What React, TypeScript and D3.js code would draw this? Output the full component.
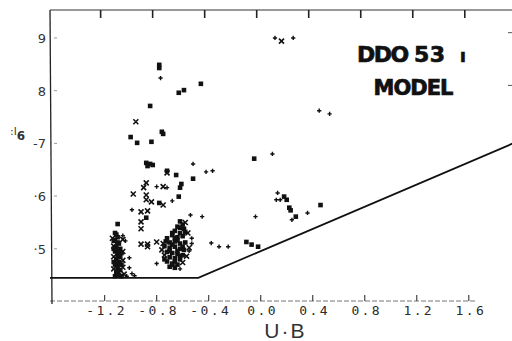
import React, { useEffect, useRef } from "react";
import * as d3 from "d3";

// tick values and labels as printed on the plot
const xTicks = [-1.2, -0.8, -0.4, 0.0, 0.4, 0.8, 1.2, 1.6];
const xTickLabels = ["-1.2", "-0.8", "-0.4", "0.0", "0.4", "0.8", "1.2", "1.6"];
const yTicks = [5, 6, 7, 8, 9];
const yTickLabels = ["·5", "·6", "-7", "8", "9"];

// [U-B, mag]
const squares: [number, number][] = [
  [-0.78, 8.49], [-0.78, 8.43], [-0.63, 7.96], [-0.59, 8.01], [-0.46, 8.13],
  [-0.85, 7.71], [-1.0, 7.12], [-0.95, 7.01], [-0.84, 7.03], [-0.76, 7.22],
  [-0.75, 7.18], [-0.05, 6.71], [-0.88, 6.63], [-0.85, 6.61], [-0.83, 6.59],
  [-0.87, 6.57], [-0.72, 6.48], [-0.65, 6.4], [-0.52, 6.33], [-0.61, 6.23],
  [-0.62, 6.16], [-0.78, 5.87], [-0.63, 5.99], [-0.88, 5.59], [-1.1, 5.47],
  [-1.11, 5.27], [-1.12, 5.17],
  // left clump
  [-1.12, 5.3], [-1.1, 5.22], [-1.13, 5.15], [-1.09, 5.1], [-1.11, 5.04],
  [-1.08, 5.0], [-1.12, 4.95], [-1.1, 4.9], [-1.08, 4.85], [-1.11, 4.8],
  [-1.09, 4.75], [-1.12, 4.7], [-1.1, 4.65], [-1.08, 4.6], [-1.11, 4.55],
  [-1.09, 4.5], [-1.07, 4.48], [-1.12, 4.48], [-1.1, 5.12], [-1.1, 4.98],
  [-1.1, 4.84], [-1.1, 4.72], [-1.1, 4.58], [-1.13, 5.0], [-1.13, 4.75],
  [-1.07, 4.92], [-1.07, 4.7],
  // central clump
  [-0.62, 5.52], [-0.6, 5.46], [-0.64, 5.42], [-0.59, 5.38], [-0.66, 5.34],
  [-0.62, 5.3], [-0.68, 5.26], [-0.64, 5.22], [-0.6, 5.24], [-0.72, 5.2],
  [-0.7, 5.12], [-0.66, 5.14], [-0.62, 5.1], [-0.58, 5.12], [-0.74, 5.05],
  [-0.7, 5.02], [-0.66, 5.04], [-0.62, 5.0], [-0.59, 4.98], [-0.72, 4.94],
  [-0.68, 4.92], [-0.64, 4.9], [-0.6, 4.88], [-0.7, 4.84], [-0.66, 4.82],
  [-0.62, 4.8], [-0.72, 4.76], [-0.68, 4.72], [-0.64, 4.7], [-0.7, 4.66],
  [-0.66, 4.64], [-0.68, 5.3], [-0.66, 5.2], [-0.68, 5.08], [-0.64, 5.16],
  [-0.6, 5.04], [-0.74, 4.8], [-0.66, 4.76], [-0.62, 4.86], [-0.7, 4.96],
  [-0.64, 4.96], [-0.58, 5.32], [-0.62, 5.4], [-0.68, 4.7], [-0.73, 5.14],
  // right side
  [-0.11, 5.13], [-0.07, 5.08], [-0.02, 5.04], [0.18, 5.99], [0.2, 5.93],
  [0.22, 5.78], [0.23, 5.73], [0.27, 5.61], [0.46, 5.83],
];

const crosses: [number, number][] = [
  [0.16, 8.94], [-0.96, 7.41], [-0.72, 6.44], [-0.88, 6.25], [-0.9, 6.16],
  [-0.75, 6.18], [-0.98, 6.04], [-0.88, 6.02], [-0.88, 5.93], [-0.84, 5.89],
  [-0.75, 5.83], [-0.92, 5.7], [-0.87, 5.72], [-0.92, 5.51], [-0.92, 5.38],
  [-0.92, 5.09], [-0.87, 5.09], [-0.87, 5.04], [-0.8, 5.13],
  [-1.14, 5.2], [-1.06, 5.18], [-1.13, 5.05], [-1.06, 4.95], [-1.13, 4.85],
  [-1.06, 4.78], [-1.13, 4.62], [-1.06, 4.65], [-1.1, 4.52], [-1.05, 4.52],
  [-0.58, 5.5], [-0.56, 5.3], [-0.75, 5.1], [-0.55, 5.02], [-0.57, 4.86],
  [-0.74, 4.88], [-0.6, 4.74], [-0.76, 4.98],
];

const pluses: [number, number][] = [
  [0.11, 9.0], [0.25, 9.0], [-0.77, 8.24], [0.45, 7.62], [0.53, 7.56],
  [0.09, 6.8], [-0.52, 6.61], [-0.42, 6.46], [-0.37, 6.48], [-0.8, 6.18],
  [-0.72, 6.16], [-0.68, 5.91], [-0.99, 5.74], [-0.54, 5.64], [-0.45, 5.61],
  [-1.06, 5.25], [-1.04, 5.15], [-1.01, 4.83], [-1.01, 4.64], [-0.99, 4.53],
  [-1.03, 4.48], [-0.97, 4.49], [-0.53, 5.2], [-0.53, 5.1], [-0.55, 4.96],
  [-0.62, 4.62], [-0.8, 4.72], [-0.38, 5.11], [-0.32, 5.04], [-0.25, 5.04],
  [-0.04, 5.61], [0.13, 6.06], [0.12, 5.93], [0.15, 5.93], [0.24, 5.55],
  [0.36, 5.68],
];

// model cut-off line
const boundary: [number, number][] = [
  [-1.62, 4.45],
  [-0.48, 4.45],
  [1.94, 7.0],
];

const W = 512;
const H = 341;

const App = () => {
  const ref = useRef<SVGSVGElement>(null);

  useEffect(() => {
    const svg = d3.select(ref.current);
    svg.selectAll("*").remove();

    const x = d3.scaleLinear().domain([-1.62, 1.94]).range([50, 513]);
    const y = d3.scaleLinear().domain([4.01, 9.53]).range([301, 10]);
    const top = y(9.53);
    const bottom = y(4.01);
    const left = x(-1.62);

    svg.append("rect").attr("width", W).attr("height", H).attr("fill", "#fff");

    // top frame with ticks pointing down
    svg
      .append("line")
      .attr("x1", left)
      .attr("x2", W)
      .attr("y1", top)
      .attr("y2", top)
      .attr("stroke", "#333")
      .attr("stroke-width", 1);
    svg
      .append("g")
      .selectAll("line")
      .data(xTicks)
      .join("line")
      .attr("x1", (d) => x(d) - 4)
      .attr("x2", (d) => x(d) - 4)
      .attr("y1", top)
      .attr("y2", top + 8)
      .attr("stroke", "#222")
      .attr("stroke-width", 1.6);

    // bottom axis, faint dashed, ticks pointing up
    svg
      .append("line")
      .attr("x1", left)
      .attr("x2", x(1.66))
      .attr("y1", bottom)
      .attr("y2", bottom)
      .attr("stroke", "#777")
      .attr("stroke-width", 1)
      .attr("stroke-dasharray", "5,2");
    svg
      .append("g")
      .selectAll("line")
      .data(xTicks)
      .join("line")
      .attr("x1", (d) => x(d))
      .attr("x2", (d) => x(d))
      .attr("y1", bottom)
      .attr("y2", bottom - 6)
      .attr("stroke", "#444")
      .attr("stroke-width", 1.2);
    svg
      .append("g")
      .attr("font-family", "DejaVu Sans Mono")
      .attr("font-size", 13)
      .attr("letter-spacing", 2.4)
      .attr("fill", "#2a2a2a")
      .selectAll("text")
      .data(xTicks)
      .join("text")
      .attr("x", (d) => x(d) + 2)
      .attr("y", bottom + 14)
      .attr("text-anchor", "middle")
      .text((d, i) => xTickLabels[i]);

    svg
      .append("text")
      .attr("x", x(0.19))
      .attr("y", 338)
      .attr("text-anchor", "middle")
      .attr("font-family", "Liberation Sans")
      .attr("font-size", 21)
      .attr("letter-spacing", 2)
      .attr("fill", "#333")
      .text("U·B");

    // left axis
    svg
      .append("line")
      .attr("x1", left)
      .attr("x2", left + 2)
      .attr("y1", top)
      .attr("y2", bottom + 3)
      .attr("stroke", "#222")
      .attr("stroke-width", 1.3);
    svg
      .append("g")
      .selectAll("line")
      .data(yTicks)
      .join("line")
      .attr("x1", left + 4)
      .attr("x2", left + 7)
      .attr("y1", (d) => y(d))
      .attr("y2", (d) => y(d))
      .attr("stroke", "#999")
      .attr("stroke-width", 1);
    svg
      .append("g")
      .attr("font-family", "DejaVu Sans")
      .attr("font-size", 13)
      .attr("fill", "#333")
      .selectAll("text")
      .data(yTicks)
      .join("text")
      .attr("x", left - 4)
      .attr("y", (d) => y(d) + 5)
      .attr("text-anchor", "end")
      .text((d, i) => yTickLabels[i]);

    // right edge tick marks
    svg
      .append("g")
      .selectAll("line")
      .data([8.1, 9.1])
      .join("line")
      .attr("x1", W - 4)
      .attr("x2", W)
      .attr("y1", (d) => y(d))
      .attr("y2", (d) => y(d))
      .attr("stroke", "#555")
      .attr("stroke-width", 1);

    // y axis label (smudged in the scan)
    const yl = svg
      .append("text")
      .attr("x", 10)
      .attr("y", y(7.15))
      .attr("font-family", "DejaVu Sans")
      .attr("fill", "#333");
    yl.append("tspan").attr("font-size", 11).text(":l");
    yl
      .append("tspan")
      .attr("font-size", 12)
      .attr("font-weight", "bold")
      .attr("dy", 5)
      .text("6");

    // boundary line
    const line = d3
      .line<[number, number]>()
      .x((d) => x(d[0]))
      .y((d) => y(d[1]));
    svg
      .append("path")
      .attr("d", line(boundary))
      .attr("fill", "none")
      .attr("stroke", "#111")
      .attr("stroke-width", 1.8);

    // markers
    svg
      .append("g")
      .selectAll("rect")
      .data(squares)
      .join("rect")
      .attr("x", (d) => x(d[0]) - 2.3)
      .attr("y", (d) => y(d[1]) - 2.3)
      .attr("width", 4.6)
      .attr("height", 4.6)
      .attr("fill", "#111");

    const cross = d3.symbol().type(d3.symbolX).size(18);
    svg
      .append("g")
      .selectAll("path")
      .data(crosses)
      .join("path")
      .attr("transform", (d) => `translate(${x(d[0])},${y(d[1])})`)
      .attr("d", cross())
      .attr("fill", "none")
      .attr("stroke", "#111")
      .attr("stroke-width", 1.6);

    const plus = d3.symbol().type(d3.symbolCross).size(10);
    svg
      .append("g")
      .selectAll("path")
      .data(pluses)
      .join("path")
      .attr("transform", (d) => `translate(${x(d[0])},${y(d[1])})`)
      .attr("d", plus())
      .attr("fill", "#111");

    // title block
    const t1 = svg
      .append("text")
      .attr("y", 62)
      .attr("font-family", "DejaVu Sans")
      .attr("font-weight", "bold")
      .attr("font-size", 22)
      .attr("fill", "#111")
      .attr("stroke", "#111")
      .attr("stroke-width", 0.7);
    t1.append("tspan").attr("x", 357).attr("letter-spacing", -1.5).text("DDO");
    t1.append("tspan").attr("x", 414).attr("letter-spacing", 0.5).text("53");
    t1.append("tspan").attr("x", 460).attr("font-size", 17).text("ı");

    svg
      .append("text")
      .attr("x", 413)
      .attr("y", 95)
      .attr("text-anchor", "middle")
      .attr("font-family", "DejaVu Sans")
      .attr("font-weight", "bold")
      .attr("font-size", 21)
      .attr("letter-spacing", -1)
      .attr("fill", "#111")
      .attr("stroke", "#111")
      .attr("stroke-width", 0.7)
      .text("MODEL");
  }, []);

  return (
    <svg
      ref={ref}
      width={W}
      height={H}
      style={{ position: "absolute", left: 0, top: 0 }}
    />
  );
};

export default App;
